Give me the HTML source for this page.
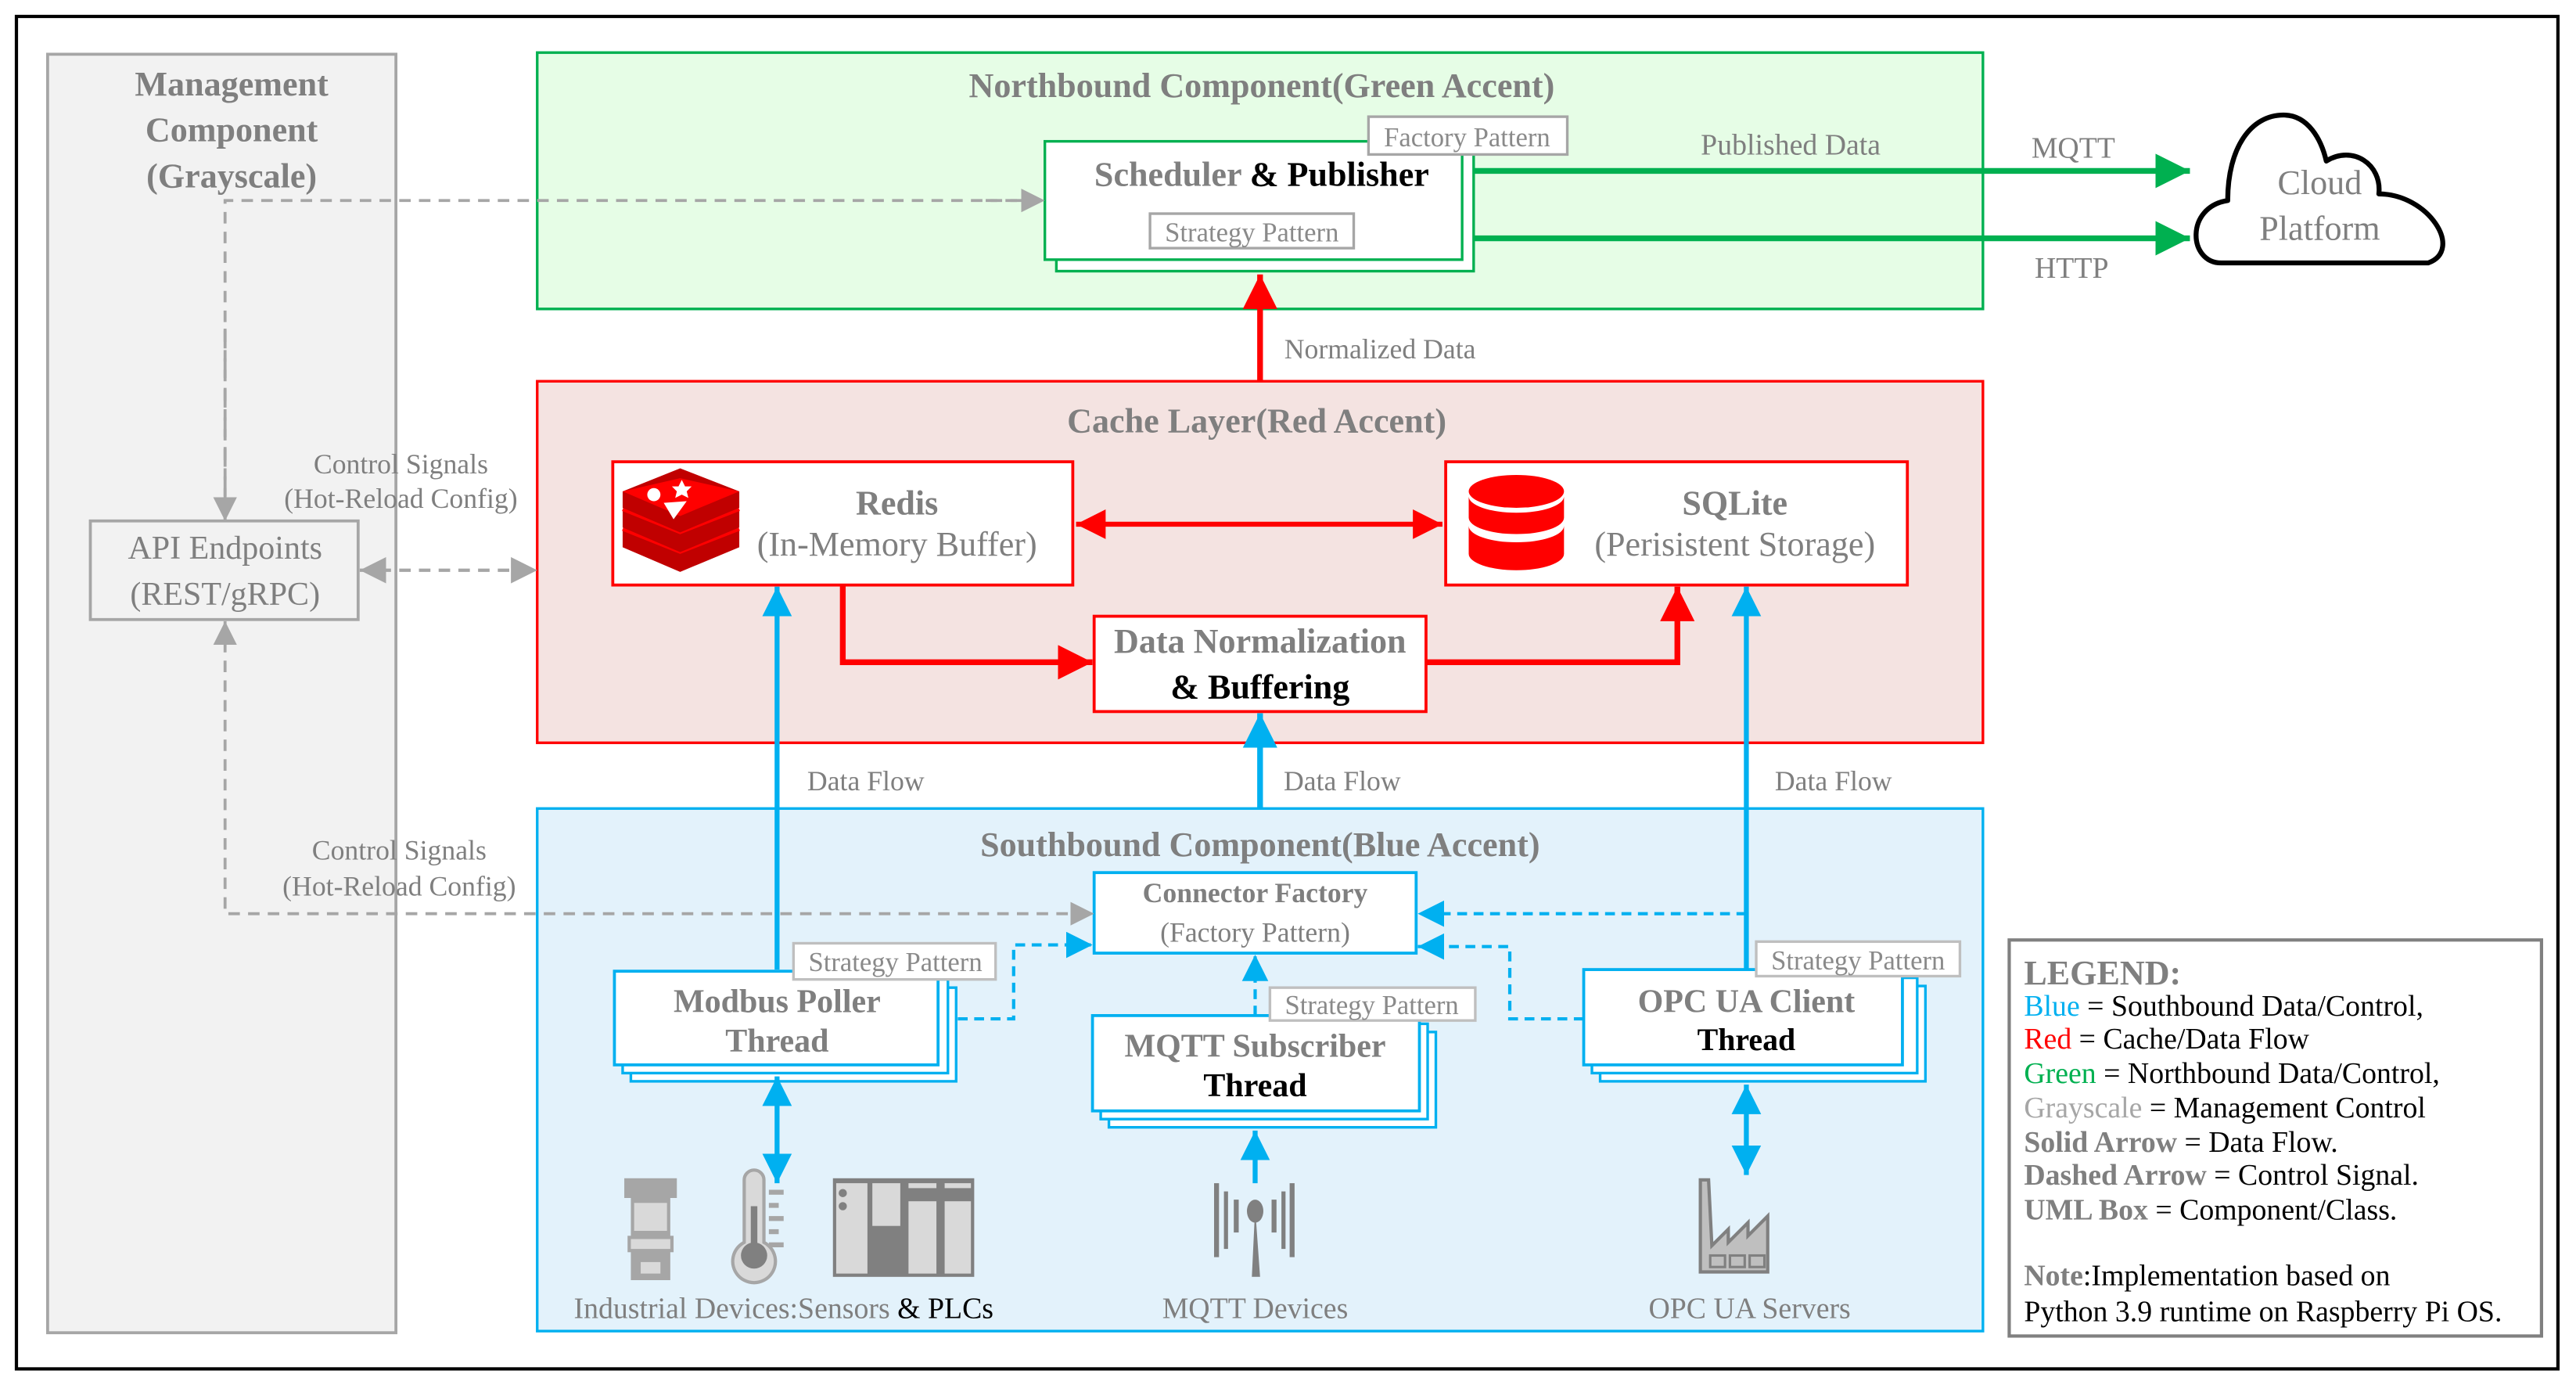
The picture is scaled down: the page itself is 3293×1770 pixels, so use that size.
<!DOCTYPE html>
<html><head><meta charset="utf-8"><style>
html,body{margin:0;padding:0;background:#fff;}
svg{display:block;}
text{font-family:"Liberation Serif",serif;}
.t{font-weight:bold;font-size:21px;fill:#7f7f7f;text-anchor:middle;}
.n{font-size:18px;fill:#7f7f7f;text-anchor:middle;}
.s{font-size:16.5px;fill:#8a8a8a;text-anchor:middle;}
.lg{font-size:18px;fill:#000;}
</style></head><body>
<svg width="3293" height="1770" viewBox="0 0 1568 842.8" xmlns="http://www.w3.org/2000/svg">
<defs>
<marker id="ag" markerWidth="6" markerHeight="6" refX="6" refY="3" orient="auto" markerUnits="strokeWidth"><path d="M0,0 L6,3 L0,6z" fill="#00b050"/></marker>
<marker id="ar" markerWidth="6" markerHeight="6" refX="6" refY="3" orient="auto-start-reverse" markerUnits="strokeWidth"><path d="M0,0 L6,3 L0,6z" fill="#ff0000"/></marker>
<marker id="ab" markerWidth="6" markerHeight="6" refX="6" refY="3" orient="auto-start-reverse" markerUnits="strokeWidth"><path d="M0,0 L6,3 L0,6z" fill="#00b0f0"/></marker>
<marker id="agr" markerWidth="8" markerHeight="8" refX="8" refY="4" orient="auto-start-reverse" markerUnits="strokeWidth"><path d="M0,0 L8,4 L0,8z" fill="#a6a6a6"/></marker>
<marker id="abd" markerWidth="8" markerHeight="8" refX="8" refY="4" orient="auto-start-reverse" markerUnits="strokeWidth"><path d="M0,0 L8,4 L0,8z" fill="#00b0f0"/></marker>
</defs>
<rect x="10" y="10" width="1547" height="823" fill="#fff" stroke="#000" stroke-width="2"/>
<!-- Management -->
<rect x="29" y="33" width="212" height="778" fill="#f2f2f2" stroke="#a6a6a6" stroke-width="1.8"/>
<text class="t" x="141" y="58">Management</text>
<text class="t" x="141" y="86">Component</text>
<text class="t" x="141" y="114">(Grayscale)</text>
<rect x="55" y="317" width="163" height="60" fill="#f2f2f2" stroke="#a6a6a6" stroke-width="1.8"/>
<text class="n" x="137" y="340" style="font-size:20px">API Endpoints</text>
<text class="n" x="137" y="368" style="font-size:20px">(REST/gRPC)</text>
<!-- Northbound -->
<rect x="327" y="32" width="880" height="156" fill="#e6fde6" stroke="#00b050" stroke-width="1.6"/>
<text class="t" x="768" y="59">Northbound Component(Green Accent)</text>
<rect x="643" y="93" width="254" height="72" fill="#fff" stroke="#00b050" stroke-width="1.6"/>
<rect x="636" y="86" width="254" height="72" fill="#fff" stroke="#00b050" stroke-width="1.6"/>
<text class="t" x="768" y="113"><tspan>Scheduler </tspan><tspan fill="#000">&amp; Publisher</tspan></text>
<rect x="700" y="130" width="124" height="21" fill="#fff" stroke="#a6a6a6" stroke-width="1.6"/>
<text class="s" x="762" y="147">Strategy Pattern</text>
<rect x="833" y="71" width="121" height="23" fill="#fff" stroke="#a6a6a6" stroke-width="1.6"/>
<text class="s" x="893" y="89">Factory Pattern</text>
<line x1="897" y1="104" x2="1333" y2="104" stroke="#00b050" stroke-width="3.5" marker-end="url(#ag)"/>
<line x1="897" y1="145" x2="1333" y2="145" stroke="#00b050" stroke-width="3.5" marker-end="url(#ag)"/>
<text class="n" x="1090" y="94">Published Data</text>
<text class="n" x="1262" y="96">MQTT</text>
<text class="n" x="1261" y="169">HTTP</text>
<path d="M1352,160 C1332,160 1330,126 1356,122 C1356,90 1370,70 1390,70 C1405,70 1413,85 1416,98 C1432,88 1450,100 1448,118 C1478,118 1500,152 1478,160 Z" fill="#fff" stroke="#000" stroke-width="3" stroke-linejoin="round"/>
<text class="n" x="1412" y="118" style="font-size:21px">Cloud</text>
<text class="n" x="1412" y="146" style="font-size:21px">Platform</text>
<!-- Normalized arrow -->
<line x1="767" y1="232" x2="767" y2="167" stroke="#ff0000" stroke-width="3.5" marker-end="url(#ar)"/>
<text class="n" x="840" y="218" style="font-size:17px">Normalized Data</text>
<!-- Cache -->
<rect x="327" y="232" width="880" height="220" fill="#f4e3e1" stroke="#ff0000" stroke-width="1.6"/>
<text class="t" x="765" y="263">Cache Layer(Red Accent)</text>
<rect x="373" y="281" width="280" height="75" fill="#fff" stroke="#ff0000" stroke-width="1.8"/>
<g>
<path d="M379,322 L414,308 L450,322 L450,333 L414,348 L379,333Z" fill="#c00000"/>
<path d="M379,322 L414,336 L450,322" fill="none" stroke="#f00" stroke-width="2"/>
<path d="M379,310 L414,296 L450,310 L450,321 L414,336 L379,321Z" fill="#c00000"/>
<path d="M379,310 L414,324 L450,310" fill="none" stroke="#f00" stroke-width="2"/>
<path d="M379,299 L414,285 L450,299 L450,309 L414,324 L379,309Z" fill="#c00000"/>
<path d="M379,299 L414,291 L450,299 L414,314Z" fill="#f00"/>
<circle cx="398" cy="301" r="4" fill="#fff"/>
<path d="M404,306 L418,305 L410,316Z" fill="#fff"/>
<path d="M415,292 l2,4 4,0 -3,3 1,4 -4,-2 -4,2 1,-4 -3,-3 4,0z" fill="#fff"/>
</g>
<text class="t" x="546" y="313">Redis</text>
<text class="n" x="546" y="338" style="font-size:21px">(In-Memory Buffer)</text>
<rect x="880" y="281" width="281" height="75" fill="#fff" stroke="#ff0000" stroke-width="1.8"/>
<g fill="#f00">
<ellipse cx="923" cy="299" rx="29" ry="10"/>
<path d="M894,302 v13 a29,10 0 0 0 58,0 v-13 a29,10 0 0 1 -58,0z"/>
<path d="M894,320 v17 a29,10 0 0 0 58,0 v-17 a29,10 0 0 1 -58,0z"/>
</g>
<text class="t" x="1056" y="313">SQLite</text>
<text class="n" x="1056" y="338" style="font-size:21px">(Perisistent Storage)</text>
<line x1="655" y1="319" x2="878" y2="319" stroke="#ff0000" stroke-width="3" marker-start="url(#ar)" marker-end="url(#ar)"/>
<rect x="666" y="375" width="202" height="58" fill="#fff" stroke="#ff0000" stroke-width="1.8"/>
<text class="t" x="767" y="397">Data Normalization</text>
<text class="t" x="767" y="425" style="fill:#000">&amp; Buffering</text>
<polyline points="513,356 513,403 665,403" fill="none" stroke="#ff0000" stroke-width="3.5" marker-end="url(#ar)"/>
<polyline points="868,403 1021,403 1021,357" fill="none" stroke="#ff0000" stroke-width="3.5" marker-end="url(#ar)"/>
<!-- Southbound -->
<rect x="327" y="492" width="880" height="318" fill="#e3f2fb" stroke="#00b0f0" stroke-width="1.6"/>
<text class="t" x="767" y="521">Southbound Component(Blue Accent)</text>
<line x1="473" y1="590" x2="473" y2="357" stroke="#00b0f0" stroke-width="3" marker-end="url(#ab)"/>
<line x1="767" y1="492" x2="767" y2="434" stroke="#00b0f0" stroke-width="3.5" marker-end="url(#ab)"/>
<line x1="1063" y1="590" x2="1063" y2="357" stroke="#00b0f0" stroke-width="3" marker-end="url(#ab)"/>
<text class="n" x="527" y="481" style="font-size:17px">Data Flow</text>
<text class="n" x="817" y="481" style="font-size:17px">Data Flow</text>
<text class="n" x="1116" y="481" style="font-size:17px">Data Flow</text>
<rect x="666" y="531" width="196" height="49" fill="#fff" stroke="#00b0f0" stroke-width="1.8"/>
<text class="t" x="764" y="549" style="font-size:17px">Connector Factory</text>
<text class="n" x="764" y="573" style="font-size:17px">(Factory Pattern)</text>
<polyline points="583,620 617,620 617,575 665,575" fill="none" stroke="#00b0f0" stroke-width="2" stroke-dasharray="6,4" marker-end="url(#abd)"/>
<line x1="764" y1="618" x2="764" y2="581" stroke="#00b0f0" stroke-width="2" stroke-dasharray="6,4" marker-end="url(#abd)"/>
<polyline points="964,620 919,620 919,576 863,576" fill="none" stroke="#00b0f0" stroke-width="2" stroke-dasharray="6,4" marker-end="url(#abd)"/>
<line x1="1063" y1="556" x2="863" y2="556" stroke="#00b0f0" stroke-width="2" stroke-dasharray="6,4" marker-end="url(#abd)"/>
<!-- Modbus -->
<rect x="384" y="601" width="198" height="57" fill="#fff" stroke="#00b0f0" stroke-width="1.6"/>
<rect x="379" y="596" width="198" height="57" fill="#fff" stroke="#00b0f0" stroke-width="1.6"/>
<rect x="374" y="591" width="197" height="57" fill="#fff" stroke="#00b0f0" stroke-width="1.8"/>
<text class="t" x="473" y="616" style="font-size:20px">Modbus Poller</text>
<text class="t" x="473" y="640" style="font-size:20px">Thread</text>
<rect x="483" y="574" width="123" height="22" fill="#fff" stroke="#bfbfbf" stroke-width="1.6"/>
<text class="s" x="545" y="591">Strategy Pattern</text>
<!-- MQTT -->
<rect x="675" y="628" width="199" height="58" fill="#fff" stroke="#00b0f0" stroke-width="1.6"/>
<rect x="670" y="623" width="199" height="58" fill="#fff" stroke="#00b0f0" stroke-width="1.6"/>
<rect x="665" y="618" width="199" height="58" fill="#fff" stroke="#00b0f0" stroke-width="1.8"/>
<text class="t" x="764" y="643" style="font-size:20px">MQTT Subscriber</text>
<text class="t" x="764" y="667" style="font-size:20px;fill:#000">Thread</text>
<rect x="773" y="601" width="125" height="20" fill="#fff" stroke="#bfbfbf" stroke-width="1.6"/>
<text class="s" x="835" y="617">Strategy Pattern</text>
<!-- OPC -->
<rect x="974" y="600" width="198" height="58" fill="#fff" stroke="#00b0f0" stroke-width="1.6"/>
<rect x="969" y="595" width="198" height="58" fill="#fff" stroke="#00b0f0" stroke-width="1.6"/>
<rect x="964" y="590" width="194" height="58" fill="#fff" stroke="#00b0f0" stroke-width="1.8"/>
<text class="t" x="1063" y="616" style="font-size:20px">OPC UA Client</text>
<text class="t" x="1063" y="639" style="font-size:19px;fill:#000">Thread</text>
<rect x="1069" y="573" width="124" height="21" fill="#fff" stroke="#bfbfbf" stroke-width="1.6"/>
<text class="s" x="1131" y="590">Strategy Pattern</text>
<!-- device arrows -->
<line x1="473" y1="655" x2="473" y2="720" stroke="#00b0f0" stroke-width="3" marker-start="url(#ab)" marker-end="url(#ab)"/>
<line x1="1063" y1="660" x2="1063" y2="715" stroke="#00b0f0" stroke-width="3" marker-start="url(#ab)" marker-end="url(#ab)"/>
<line x1="764" y1="720" x2="764" y2="688" stroke="#00b0f0" stroke-width="3" marker-end="url(#ab)"/>
<!-- icons -->
<g fill="#a6a6a6">
<rect x="380" y="717" width="32" height="12"/><rect x="384" y="729" width="24" height="50"/><rect x="382" y="752" width="28" height="10"/><rect x="387" y="762" width="18" height="14"/>
</g>
<g fill="#d9d9d9"><rect x="386" y="732" width="20" height="17"/><rect x="384" y="754" width="24" height="6"/><rect x="390" y="768" width="12" height="7"/></g>
<path d="M453,718 a6,6 0 0 1 12,0 v38 a13,13 0 1 1 -12,0z" fill="#d9d9d9" stroke="#a6a6a6" stroke-width="2"/>
<rect x="457" y="734" width="4" height="26" fill="#808080"/><circle cx="459" cy="764" r="8" fill="#808080"/>
<g fill="#a6a6a6"><rect x="468" y="724" width="9" height="3"/><rect x="468" y="732" width="6" height="3"/><rect x="468" y="740" width="9" height="3"/><rect x="468" y="748" width="6" height="3"/><rect x="468" y="756" width="9" height="3"/></g>
<rect x="507" y="717" width="86" height="60" fill="#808080"/>
<g fill="#d9d9d9"><rect x="509" y="720" width="19" height="55"/><rect x="531" y="720" width="17" height="26"/><rect x="553" y="731" width="17" height="44"/><rect x="575" y="731" width="16" height="44"/><rect x="553" y="720" width="17" height="3"/><rect x="575" y="720" width="16" height="3"/></g>
<circle cx="513" cy="726" r="2.5" fill="#808080"/><circle cx="513" cy="734" r="2.5" fill="#808080"/>
<g fill="#808080"><path d="M762,777 h5 l-3,-42z"/><ellipse cx="764" cy="737" rx="5" ry="7"/>
<rect x="739" y="720" width="3" height="45"/><rect x="785" y="720" width="3" height="45"/><rect x="745" y="725" width="2.5" height="35"/><rect x="780" y="725" width="2.5" height="35"/><rect x="751" y="730" width="3" height="20"/><rect x="774" y="730" width="3" height="20"/></g>
<path d="M1035,718 h5 l2,40 l10,-10 v8 l12,-12 v8 l12,-12 v34 h-41z" fill="#bfbfbf" stroke="#808080" stroke-width="2"/>
<g fill="none" stroke="#808080" stroke-width="1.5"><rect x="1041" y="764" width="9" height="7"/><rect x="1053" y="764" width="9" height="7"/><rect x="1065" y="764" width="9" height="7"/></g>
<text class="n" x="477" y="802"><tspan>Industrial Devices:Sensors </tspan><tspan fill="#000">&amp; PLCs</tspan></text>
<text class="n" x="764" y="802">MQTT Devices</text>
<text class="n" x="1065" y="802">OPC UA Servers</text>
<!-- gray dashed control -->
<polyline points="137,316 137,122 624,122" fill="none" stroke="#a6a6a6" stroke-width="1.8" stroke-dasharray="7,5"/>
<line x1="600" y1="122" x2="636" y2="122" stroke="#a6a6a6" stroke-width="1.8" stroke-dasharray="7,5" marker-end="url(#agr)"/>
<line x1="137" y1="200" x2="137" y2="317" stroke="#a6a6a6" stroke-width="1.8" stroke-dasharray="12,6" marker-end="url(#agr)"/>
<line x1="219" y1="347" x2="327" y2="347" stroke="#a6a6a6" stroke-width="2" stroke-dasharray="7,5" marker-start="url(#agr)" marker-end="url(#agr)"/>
<polyline points="137,378 137,556 666,556" fill="none" stroke="#a6a6a6" stroke-width="1.8" stroke-dasharray="7,5" marker-start="url(#agr)" marker-end="url(#agr)"/>
<text class="n" x="244" y="288" style="font-size:17px">Control Signals</text>
<text class="n" x="244" y="309" style="font-size:17px">(Hot-Reload Config)</text>
<text class="n" x="243" y="523" style="font-size:17px">Control Signals</text>
<text class="n" x="243" y="545" style="font-size:17px">(Hot-Reload Config)</text>
<!-- Legend -->
<rect x="1223" y="572" width="324" height="241" fill="#fff" stroke="#808080" stroke-width="2"/>
<text x="1232" y="599" style="font-size:21px;font-weight:bold;fill:#7f7f7f">LEGEND:</text>
<text class="lg" x="1232" y="618"><tspan fill="#00b0f0">Blue</tspan> = Southbound Data/Control,</text>
<text class="lg" x="1232" y="638"><tspan fill="#ff0000">Red</tspan> = Cache/Data Flow</text>
<text class="lg" x="1232" y="659"><tspan fill="#00b050">Green</tspan> = Northbound Data/Control,</text>
<text class="lg" x="1232" y="680"><tspan fill="#a6a6a6">Grayscale</tspan> = Management Control</text>
<text class="lg" x="1232" y="701"><tspan font-weight="bold" fill="#7f7f7f">Solid Arrow</tspan> = Data Flow.</text>
<text class="lg" x="1232" y="721"><tspan font-weight="bold" fill="#7f7f7f">Dashed Arrow</tspan> = Control Signal.</text>
<text class="lg" x="1232" y="742"><tspan font-weight="bold" fill="#7f7f7f">UML Box</tspan> = Component/Class.</text>
<text class="lg" x="1232" y="782"><tspan font-weight="bold" fill="#7f7f7f">Note</tspan>:Implementation based on</text>
<text class="lg" x="1232" y="804">Python 3.9 runtime on Raspberry Pi OS.</text>
</svg>
</body></html>
